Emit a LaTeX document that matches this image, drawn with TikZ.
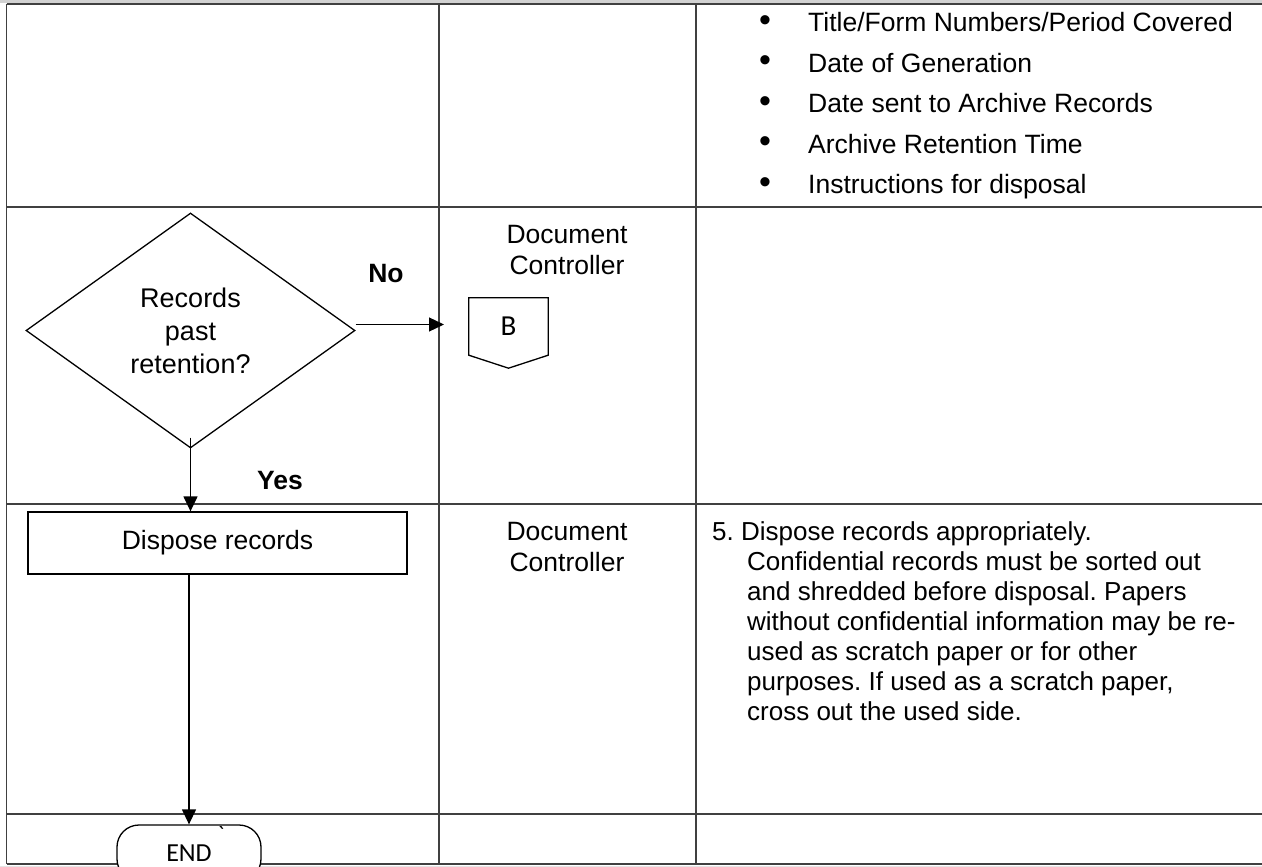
\documentclass[tikz,border=0pt]{standalone}
\usepackage{fontspec}
\setmainfont{Liberation Sans}
\newfontfamily\calfont{Carlito}
\newfontfamily\calplain[Ligatures=ResetAll]{Carlito}
\usetikzlibrary{shapes.geometric,arrows.meta}
\frenchspacing
\begin{document}
\begin{tikzpicture}[x=1pt,y=-1pt,
  tbl/.style={line width=1.6pt, draw=black!75},
  fl/.style={line width=1.3pt, draw=black},
  arr/.style={line width=1.3pt, draw=black, -{Triangle[length=15pt,width=14pt]}},
  txt/.style={font=\fontsize{26.5}{30}\selectfont, inner sep=0pt},
  lbl/.style={font=\fontsize{26.5}{30}\selectfont\bfseries, inner sep=0pt, anchor=base},
  calib/.style={font=\calfont\fontsize{26}{30}\selectfont, inner sep=0pt}]
\useasboundingbox (0,0) rectangle (1262,867);
\clip (0,0) rectangle (1262,867);
\fill[gray!35] (0,0) rectangle (1262,3);
\fill[gray!20] (0,866) rectangle (1262,867);
% table grid
\draw[tbl] (6.5,4) -- (1262,4);
\draw[tbl] (6.5,207) -- (1262,207);
\draw[tbl] (6.5,504) -- (1262,504);
\draw[tbl] (6.5,814) -- (1262,814);
\draw[tbl] (6.5,864) -- (1262,864);
\draw[tbl] (6.5,4) -- (6.5,864);
\draw[tbl] (439,4) -- (439,864);
\draw[tbl] (696,4) -- (696,864);
% bullet list
\foreach \t [count=\i from 0] in {Title/Form Numbers/Period Covered, Date of Generation, Date sent to Archive Records, Archive Retention Time, Instructions for disposal}{
  \node[inner sep=0pt, font=\fontsize{34}{34}\selectfont] (bul\i) at (765,{23.5+40.4*\i}) {•};
  \node[txt, anchor=base west] (item\i) at (808,{32+40.4*\i}) {\t};
}
% decision
\node[fl, diamond, minimum width=329pt, minimum height=235pt, inner sep=0pt,
      font=\fontsize{27}{33}\selectfont, align=center] (d) at (190.5,330.5) {Records\\past\\retention?};
\node[lbl] (no) at (386,282) {No};
\node[lbl] (yes) at (280,489) {Yes};
\node[txt, anchor=base] (dc1) at (567,243) {\fontsize{26.5}{31.5}\selectfont\begin{tabular}[t]{@{}c@{}}Document\\Controller\end{tabular}};
% off-page connector B
\node[calib, font=\calfont\fontsize{29}{30}\selectfont, minimum width=79pt, minimum height=57pt] (B) at (508.5,326.5) {B};
\draw[fl] (B.north west) -- (B.north east) -- (B.south east) -- ([yshift=-13pt]B.south) -- (B.south west) -- cycle;
% dispose
\node[txt, fl, rectangle, minimum width=379pt, minimum height=62pt] (disp) at (217.5,543) {Dispose records};
\node[txt, anchor=base] (dc2) at (567,540) {\fontsize{26.5}{31.5}\selectfont\begin{tabular}[t]{@{}c@{}}Document\\Controller\end{tabular}};
\node[txt, font=\fontsize{26}{30}\selectfont, anchor=base west] (p5) at (712,540) {\begin{tabular}[t]{@{}l@{}}5. Dispose records appropriately.\\
\hspace*{35pt}Confidential records must be sorted out\\
\hspace*{35pt}and shredded before disposal. Papers\\
\hspace*{35pt}without confidential information may be re-\\
\hspace*{35pt}used as scratch paper or for other\\
\hspace*{35pt}purposes. If used as a scratch paper,\\
\hspace*{35pt}cross out the used side.\end{tabular}};
% end terminal
\node[calib, fl, fill=white, rounded corners=22pt, minimum width=144pt, minimum height=56pt] (e) at (189,853) {END};
\node[font=\calplain\fontsize{22}{26}\selectfont, inner sep=0pt, anchor=north] (tick) at (221,826) {`};
% connectors
\coordinate (bin) at (444,324.5);
\draw[arr] ([yshift=6pt]d.east) -- (bin);
\draw[arr] ([yshift=11pt]d.south) -- (d.south |- disp.north);
\draw[arr] (disp.south -| e.north) -- (e.north);
\end{tikzpicture}
\end{document}
